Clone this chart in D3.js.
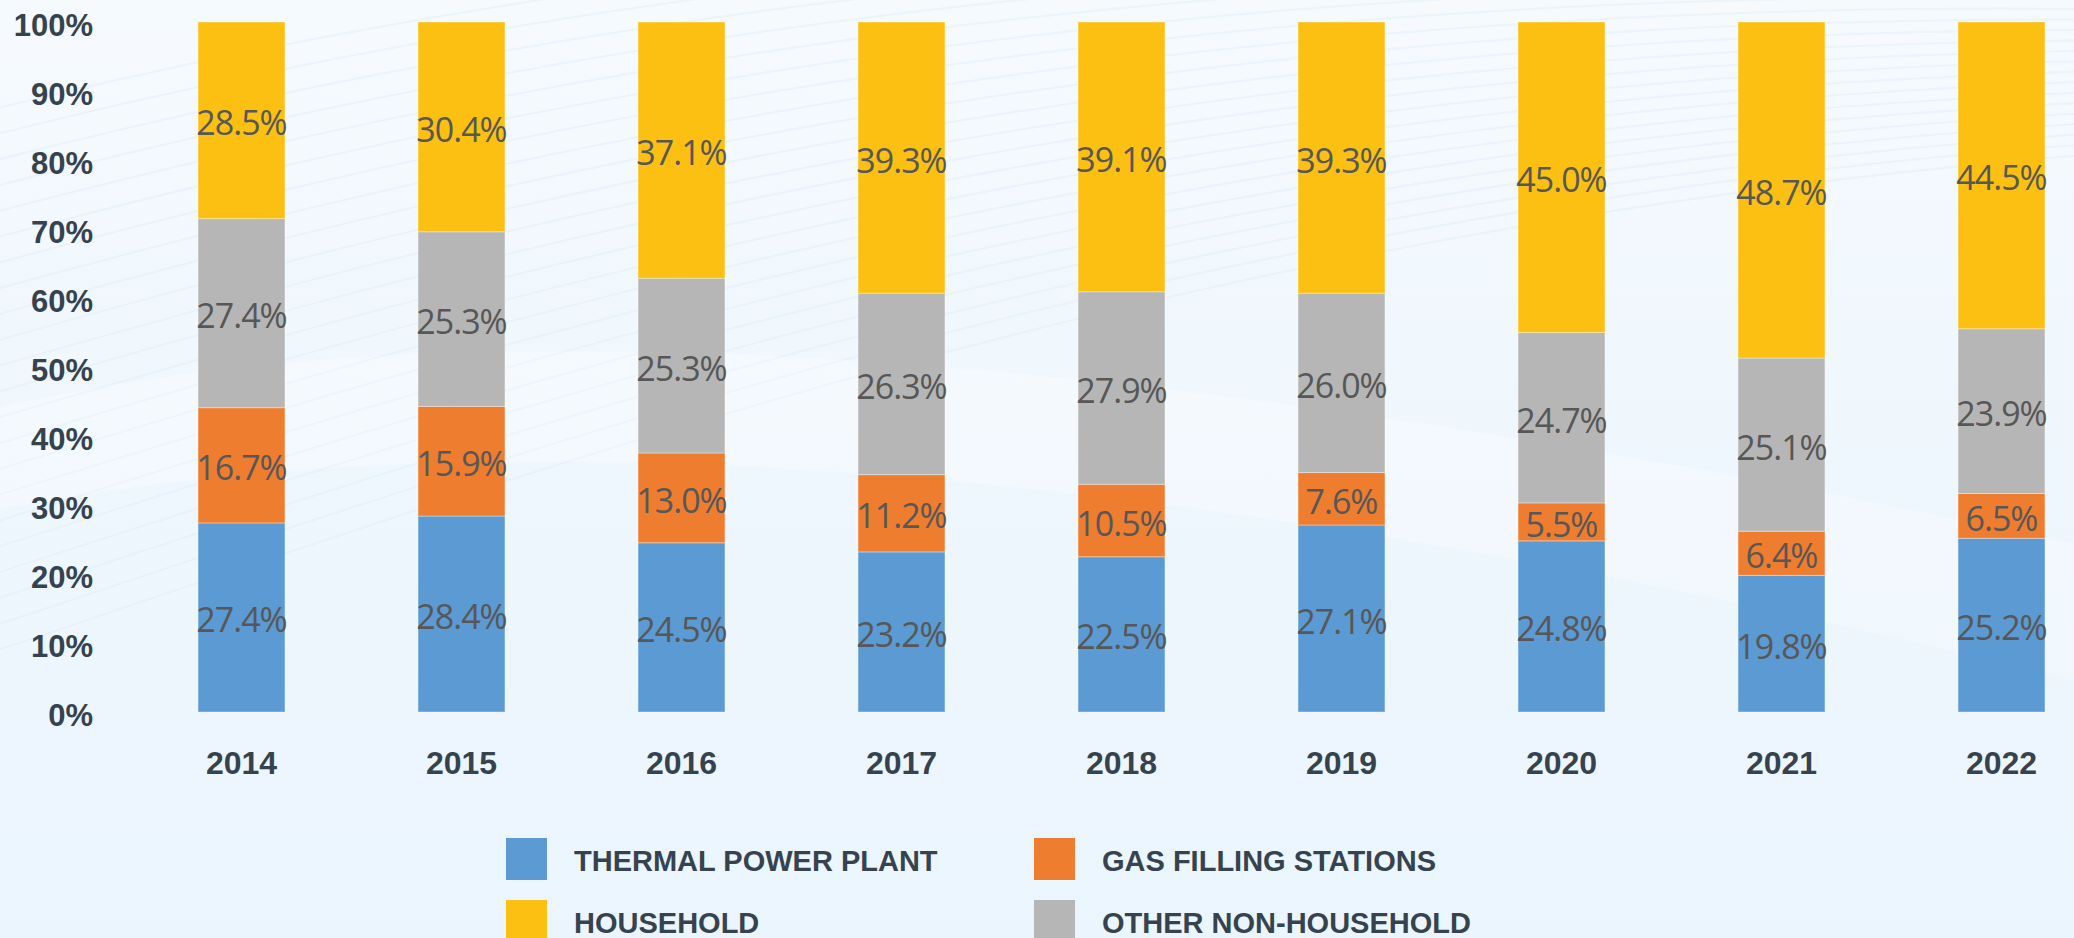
<!DOCTYPE html>
<html lang="en">

<head>
    <meta charset="UTF-8">
    <title>Gas consumption structure 2014-2022</title>
    <style>
        body { margin: 0; background: #eef6fc; }
        svg { display: block; }
    </style>
</head>

<body>
    <script src="https://cdn.jsdelivr.net/npm/d3@7"></script>
    <script>
        const years = ['2014', '2015', '2016', '2017', '2018', '2019', '2020', '2021', '2022'];
        const thermal = [27.4, 28.4, 24.5, 23.2, 22.5, 27.1, 24.8, 19.8, 25.2];
        const gasStations = [16.7, 15.9, 13.0, 11.2, 10.5, 7.6, 5.5, 6.4, 6.5];
        const otherNonHousehold = [27.4, 25.3, 25.3, 26.3, 27.9, 26.0, 24.7, 25.1, 23.9];
        const household = [28.5, 30.4, 37.1, 39.3, 39.1, 39.3, 45.0, 48.7, 44.5];

        const keys = ['thermal', 'gas', 'other', 'household'];
        const legendLabels = ['THERMAL POWER PLANT', 'GAS FILLING STATIONS', 'HOUSEHOLD', 'OTHER NON-HOUSEHOLD'];
        const legendKeys = ['thermal', 'gas', 'household', 'other'];
        const yTicks = [0, 0.1, 0.2, 0.3, 0.4, 0.5, 0.6, 0.7, 0.8, 0.9, 1];

        const colors = {
            thermal: '#5b9ad3',
            gas: '#ee7d30',
            other: '#b5b6b5',
            household: '#fcc012'
        };

        const w = 2074;
        const h = 938;
        const textColor = '#36434e';

        // table for the stack layout
        const table = years.map((y, i) => ({
            year: y,
            thermal: thermal[i],
            gas: gasStations[i],
            other: otherNonHousehold[i],
            household: household[i]
        }));

        const series = d3.stack()
            .keys(keys)
            .offset(d3.stackOffsetExpand)(table);

        const xScale = d3.scaleBand()
            .domain(years)
            .range([131.5, 2111.5])
            .paddingInner(0.605)
            .paddingOuter(0.3025);

        const yScale = d3.scaleLinear()
            .domain([0, 1])
            .range([712, 22]);

        const svg = d3.select('body')
            .append('svg')
            .attr('width', w)
            .attr('height', h);

        // background
        const defs = svg.append('defs');
        const bg = defs.append('linearGradient')
            .attr('id', 'bg')
            .attr('x1', 0).attr('y1', 0).attr('x2', 0).attr('y2', 1);
        bg.append('stop').attr('offset', '0%').attr('stop-color', '#f6fafd');
        bg.append('stop').attr('offset', '45%').attr('stop-color', '#eff7fd');
        bg.append('stop').attr('offset', '100%').attr('stop-color', '#ebf5fd');

        svg.append('rect')
            .attr('width', w)
            .attr('height', h)
            .attr('fill', 'url(#bg)');

        // faint decorative swoosh lines
        const deco = svg.append('g').attr('fill', 'none');
        for (let k = 0; k < 22; k++) {
            deco.append('path')
                .attr('d', `M -50 ${120 + k * 26} C 500 ${-20 + k * 24}, 1200 ${-120 + k * 16}, 2150 ${-60 + k * 10}`)
                .attr('stroke', '#dcecf8')
                .attr('stroke-opacity', 0.4)
                .attr('stroke-width', 2);
        }
        svg.append('path')
            .attr('d', 'M -50 420 C 400 300, 1100 330, 2150 560 L 2150 700 C 1100 430, 400 420, -50 520 Z')
            .attr('fill', '#ffffff')
            .attr('opacity', 0.25);

        // y axis labels (no axis line)
        svg.append('g')
            .selectAll('text')
            .data(yTicks)
            .enter()
            .append('text')
            .attr('x', 93)
            .attr('y', d => yScale(d) + 3)
            .attr('text-anchor', 'end')
            .attr('dominant-baseline', 'central')
            .attr('font-family', '"Liberation Sans", Arial, sans-serif')
            .attr('font-weight', 'bold')
            .attr('font-size', 31)
            .attr('fill', textColor)
            .text(d => d3.format('.0%')(d));

        // bars
        const layers = svg.append('g')
            .selectAll('g')
            .data(series)
            .enter()
            .append('g')
            .attr('fill', d => colors[d.key]);

        layers.selectAll('rect')
            .data(d => d)
            .enter()
            .append('rect')
            .attr('x', d => xScale(d.data.year))
            .attr('y', d => yScale(d[1]))
            .attr('width', xScale.bandwidth())
            .attr('height', d => yScale(d[0]) - yScale(d[1]))
            .attr('stroke', '#ffffff')
            .attr('stroke-opacity', 0.35)
            .attr('stroke-width', 1);

        // data labels
        series.forEach(s => {
            svg.append('g')
                .selectAll('text')
                .data(s)
                .enter()
                .append('text')
                .attr('x', d => xScale(d.data.year) + xScale.bandwidth() / 2)
                .attr('y', d => (yScale(d[0]) + yScale(d[1])) / 2 + 2)
                .attr('text-anchor', 'middle')
                .attr('dominant-baseline', 'central')
                .attr('font-family', '"Open Sans", "Noto Sans", sans-serif')
                .attr('font-size', 34)
                .attr('letter-spacing', -1)
                .attr('fill', '#575757')
                .text(d => d.data[s.key].toFixed(1) + '%');
        });

        // year labels
        svg.append('g')
            .selectAll('text')
            .data(years)
            .enter()
            .append('text')
            .attr('x', d => xScale(d) + xScale.bandwidth() / 2)
            .attr('y', 763)
            .attr('text-anchor', 'middle')
            .attr('dominant-baseline', 'central')
            .attr('font-family', '"Liberation Sans", Arial, sans-serif')
            .attr('font-weight', 'bold')
            .attr('font-size', 32)
            .attr('fill', textColor)
            .text(d => d);

        // legend, two columns
        const legend = svg.append('g')
            .selectAll('g')
            .data(legendKeys)
            .enter()
            .append('g')
            .attr('transform', (d, i) => `translate(${i % 2 === 0 ? 506 : 1034}, ${i < 2 ? 838 : 900})`);

        legend.append('rect')
            .attr('width', 41)
            .attr('height', 42)
            .attr('fill', d => colors[d]);

        legend.append('text')
            .attr('x', 68)
            .attr('y', 23)
            .attr('dominant-baseline', 'central')
            .attr('font-family', '"Liberation Sans", Arial, sans-serif')
            .attr('font-weight', 'bold')
            .attr('font-size', 29)
            .attr('fill', textColor)
            .text((d, i) => legendLabels[i]);
    </script>
</body>

</html>
